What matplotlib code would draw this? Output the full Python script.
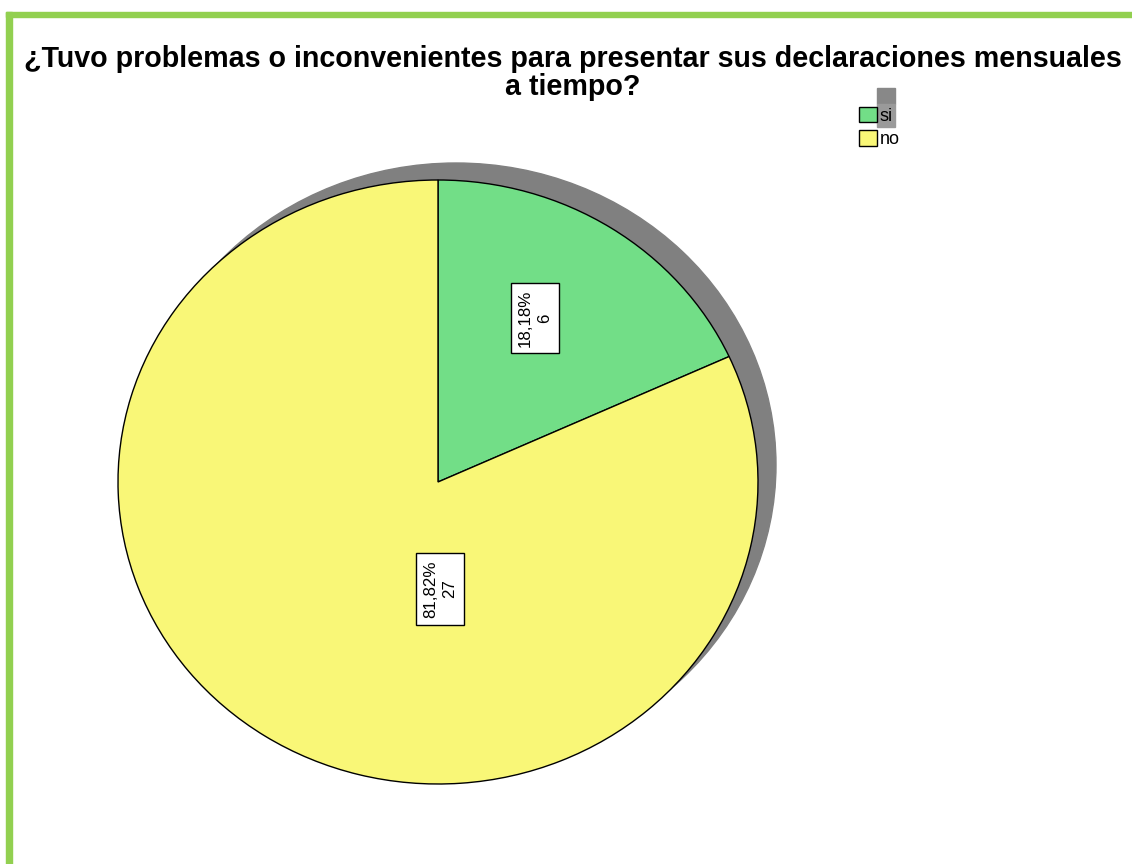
import matplotlib
matplotlib.use("Agg")
import matplotlib.pyplot as plt
import matplotlib.patches as mpatches

# data
categorias = ['si', 'no']
frecuencias = [6, 27]
colores = ['#72de87', '#f9f777']
titulo = '¿Tuvo problemas o inconvenientes para presentar sus declaraciones mensuales\na tiempo?'

W, H = 1132, 864
plt.rcParams['font.family'] = ['Liberation Sans', 'DejaVu Sans']

fig = plt.figure(figsize=(W / 100, H / 100), dpi=100)
fig.patch.set_facecolor('white')

def fx(px):
    return px / W

def fy(py):
    return 1 - py / H

# green frame (cropped screenshot border)
fig.patches.append(mpatches.Rectangle((fx(6), fy(864)), fx(6), 1 - 12 / H,
                                      transform=fig.transFigure, color='#92d050', zorder=0))
fig.patches.append(mpatches.Rectangle((fx(6), fy(17)), 1, 5 / H,
                                      transform=fig.transFigure, color='#92d050', zorder=0))

fig.text(fx(573), fy(73), titulo, ha='center', va='center', fontsize=20.6,
         fontweight='bold', linespacing=1.02)

# pie axes, elliptic (width 640 px, height 604 px)
ax = fig.add_axes([fx(118), fy(784), fx(640), 604 / H])
total = sum(frecuencias)

def etiqueta(pct):
    n = int(round(pct * total / 100))
    return ('%.2f%%' % pct).replace('.', ',') + '\n' + str(n)

# shadow
ax.add_patch(mpatches.Ellipse((18 / 320, 17 / 302), 2, 2, color='#808080', zorder=0, clip_on=False))
wedges, texts, autotexts = ax.pie(frecuencias, colors=colores, startangle=90, counterclock=False,
                                  autopct=etiqueta, pctdistance=0.62,
                                  wedgeprops=dict(edgecolor='black', linewidth=1))
for w in wedges:
    w.set_zorder(1)
ax.set_aspect('auto')
ax.set_xlim(-1, 1)
ax.set_ylim(-1, 1)
ax.axis('off')

# label placement as in the original
autotexts[0].set_position((97 / 320, 164 / 302))
autotexts[1].set_position((2 / 320, -107 / 302))
for t in autotexts:
    t.set_rotation(90)
    t.set_fontsize(12.2)
    t.set_linespacing(1.3)
    t.set_zorder(5)
    t.set_bbox(dict(facecolor='white', edgecolor='black', linewidth=1, boxstyle='square,pad=0.4'))

# legend
fig.patches.append(mpatches.Rectangle((fx(877), fy(104)), fx(18), 16 / H,
                                      transform=fig.transFigure, color='#888888', zorder=0))
fig.patches.append(mpatches.Rectangle((fx(877), fy(127)), fx(18), 23 / H,
                                      transform=fig.transFigure, color='#9a9a9a', zorder=0))
handles = [mpatches.Patch(facecolor=colores[i], edgecolor='black', label=categorias[i]) for i in range(2)]
fig.legend(handles=handles, loc='upper left', bbox_to_anchor=(fx(846), fy(94)), frameon=False,
           fontsize=13, handlelength=1.0, handleheight=0.95, handletextpad=0.15,
           labelspacing=0.3, borderpad=0.2)

fig.savefig('out.png', dpi=100)
